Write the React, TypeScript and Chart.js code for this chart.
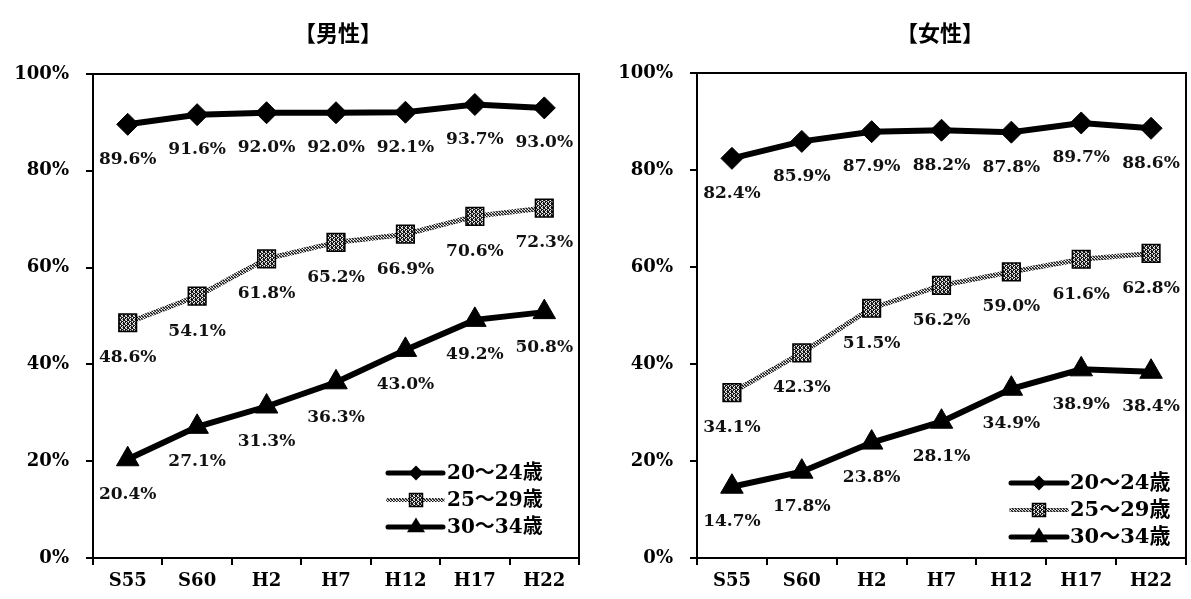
import React, { useEffect, useRef } from 'react';
import { Chart, registerables } from 'chart.js';

Chart.register(...registerables);

const categories = ['S55', 'S60', 'H2', 'H7', 'H12', 'H17', 'H22'];
const seriesNames = ['20～24歳', '25～29歳', '30～34歳'];
const yTickValues = [0, 20, 40, 60, 80, 100];

const male20to24 = [89.6, 91.6, 92.0, 92.0, 92.1, 93.7, 93.0];
const male25to29 = [48.6, 54.1, 61.8, 65.2, 66.9, 70.6, 72.3];
const male30to34 = [20.4, 27.1, 31.3, 36.3, 43.0, 49.2, 50.8];

const female20to24 = [82.4, 85.9, 87.9, 88.2, 87.8, 89.7, 88.6];
const female25to29 = [34.1, 42.3, 51.5, 56.2, 59.0, 61.6, 62.8];
const female30to34 = [14.7, 17.8, 23.8, 28.1, 34.9, 38.9, 38.4];

const SERIF = "'DejaVu Serif', 'Liberation Serif', serif";
const CJK = "'DejaVu Serif', 'Noto Sans CJK JP', sans-serif";

function makePattern(rows: string[]): CanvasPattern | string {
  const c = document.createElement('canvas');
  c.width = rows[0].length;
  c.height = rows.length;
  const ctx = c.getContext('2d');
  if (!ctx) return '#888';
  rows.forEach((row, j) => {
    for (let i = 0; i < row.length; i++) {
      const ch = row[i];
      ctx.fillStyle = ch === 'k' ? '#111' : ch === 'g' ? '#888' : '#f4f4f4';
      ctx.fillRect(i, j, 1, 1);
    }
  });
  return ctx.createPattern(c, 'repeat') || '#888';
}

type Cfg = {
  title: string;
  s1: number[];
  s2: number[];
  s3: number[];
  canvasLeft: number;
  canvasW: number;
  area: { left: number; right: number; top: number; bottom: number };
  legend: { x0: number; x1: number; mx: number; tx: number; rows: number[]; font: number };
  titleX: number;
};

const H = 599;

function drawMarker(ctx: CanvasRenderingContext2D, kind: number, x: number, y: number, fill: any) {
  ctx.save();
  ctx.beginPath();
  if (kind === 0) {
    const r = 7.5;
    ctx.moveTo(x, y - r);
    ctx.lineTo(x + r, y);
    ctx.lineTo(x, y + r);
    ctx.lineTo(x - r, y);
    ctx.closePath();
    ctx.fillStyle = '#000';
    ctx.fill();
  } else if (kind === 1) {
    const s = 6.5;
    ctx.rect(x - s, y - s, 2 * s, 2 * s);
    ctx.fillStyle = fill;
    ctx.fill();
    ctx.lineWidth = 1.5;
    ctx.strokeStyle = '#000';
    ctx.stroke();
  } else {
    const r = 9.5;
    ctx.moveTo(x, y - r);
    ctx.lineTo(x + r * 0.95, y + r * 0.55);
    ctx.lineTo(x - r * 0.95, y + r * 0.55);
    ctx.closePath();
    ctx.fillStyle = '#000';
    ctx.fill();
  }
  ctx.restore();
}

function PanelChart({ cfg }: { cfg: Cfg }) {
  const ref = useRef<HTMLCanvasElement | null>(null);

  useEffect(() => {
    if (!ref.current) return;
    const markerFill = makePattern(['kgwk', 'wkkg', 'gkwk', 'kwgk']);
    const linePattern = makePattern(['kgw', 'gkg', 'wgk']);
    const { area, legend } = cfg;

    const framePlugin = {
      id: 'frame',
      beforeDatasetsDraw(chart: any) {
        const a = chart.chartArea;
        const ctx = chart.ctx;
        ctx.save();
        ctx.strokeStyle = '#000';
        ctx.lineWidth = 2;
        ctx.strokeRect(a.left, a.top, a.right - a.left, a.bottom - a.top);
        ctx.restore();
      },
    };

    const labelPlugin = {
      id: 'valueLabels',
      afterDatasetsDraw(chart: any) {
        const ctx = chart.ctx;
        ctx.save();
        ctx.font = `bold 17px ${SERIF}`;
        ctx.fillStyle = '#111';
        ctx.textAlign = 'center';
        ctx.textBaseline = 'middle';
        chart.data.datasets.forEach((ds: any, di: number) => {
          const meta = chart.getDatasetMeta(di);
          meta.data.forEach((el: any, i: number) => {
            const v = ds.data[i] as number;
            ctx.fillText(v.toFixed(1) + '%', el.x, el.y + 35);
          });
        });
        ctx.restore();
      },
    };

    const extrasPlugin = {
      id: 'extras',
      afterDraw(chart: any) {
        const ctx = chart.ctx;
        ctx.save();
        ctx.font = `bold 22px 'Noto Sans CJK JP', sans-serif`;
        ctx.fillStyle = '#000';
        ctx.textAlign = 'center';
        ctx.textBaseline = 'middle';
        ctx.fillText(cfg.title, cfg.titleX, 33);
        seriesNames.forEach((name, i) => {
          const y = legend.rows[i];
          ctx.beginPath();
          ctx.moveTo(legend.x0, y);
          ctx.lineTo(legend.x1, y);
          ctx.lineWidth = i === 1 ? 4 : 5;
          ctx.strokeStyle = i === 1 ? (linePattern as any) : '#000';
          ctx.lineCap = 'round';
          ctx.stroke();
          drawMarker(ctx, i, legend.mx, y, markerFill);
          ctx.font = `bold ${legend.font}px ${CJK}`;
          ctx.fillStyle = '#000';
          ctx.textAlign = 'left';
          ctx.textBaseline = 'middle';
          ctx.fillText(name, legend.tx, y + 1);
        });
        ctx.restore();
      },
    };

    const chart = new Chart(ref.current, {
      type: 'line',
      data: {
        labels: categories,
        datasets: [
          {
            label: seriesNames[0],
            data: cfg.s1,
            borderColor: '#000',
            backgroundColor: '#000',
            borderWidth: 6,
            pointStyle: 'rectRot',
            pointRadius: 11,
            pointBorderWidth: 1,
            pointBackgroundColor: '#000',
            pointBorderColor: '#000',
            tension: 0,
          },
          {
            label: seriesNames[1],
            data: cfg.s2,
            borderColor: linePattern as any,
            backgroundColor: markerFill as any,
            borderWidth: 5,
            pointStyle: 'rect',
            pointRadius: 12.5,
            pointBorderWidth: 1.5,
            pointBackgroundColor: markerFill as any,
            pointBorderColor: '#000',
            tension: 0,
          },
          {
            label: seriesNames[2],
            data: cfg.s3,
            borderColor: '#000',
            backgroundColor: '#000',
            borderWidth: 6,
            pointStyle: 'triangle',
            pointRadius: 13,
            pointBorderWidth: 1,
            pointBackgroundColor: '#000',
            pointBorderColor: '#000',
            tension: 0,
          },
        ],
      },
      options: {
        responsive: false,
        animation: false,
        devicePixelRatio: 1,
        layout: {
          padding: { left: 0, top: area.top, right: cfg.canvasW - area.right, bottom: 0 },
        },
        plugins: {
          legend: { display: false },
          tooltip: { enabled: false },
          title: { display: false },
        },
        scales: {
          x: {
            type: 'category',
            offset: true,
            afterFit: (s: any) => {
              s.height = H - area.bottom;
            },
            grid: {
              offset: true,
              drawOnChartArea: false,
              drawTicks: true,
              tickLength: 7,
              color: '#000',
              lineWidth: 2,
            },
            border: { display: true, color: '#000', width: 2 },
            ticks: {
              color: '#000',
              font: { family: SERIF, size: 18, weight: 'bold' },
              padding: 6,
              maxRotation: 0,
              autoSkip: false,
            },
          },
          y: {
            min: 0,
            max: 100,
            afterFit: (s: any) => {
              s.width = area.left;
            },
            afterBuildTicks: (s: any) => {
              s.ticks = yTickValues.map((v) => ({ value: v }));
            },
            grid: {
              drawOnChartArea: false,
              drawTicks: true,
              tickLength: 7,
              color: '#000',
              lineWidth: 2,
            },
            border: { display: true, color: '#000', width: 2 },
            ticks: {
              color: '#000',
              font: { family: SERIF, size: 18, weight: 'bold' },
              padding: 17,
              callback: (v: any) => `${v}%`,
            },
          },
        },
      },
      plugins: [framePlugin, labelPlugin, extrasPlugin],
    } as any);

    return () => chart.destroy();
  }, [cfg]);

  return (
    <canvas
      ref={ref}
      width={cfg.canvasW}
      height={H}
      style={{ position: 'absolute', left: cfg.canvasLeft, top: 0, width: cfg.canvasW, height: H }}
    />
  );
}

const maleCfg: Cfg = {
  title: '【男性】',
  s1: male20to24,
  s2: male25to29,
  s3: male30to34,
  canvasLeft: 0,
  canvasW: 600,
  area: { left: 93, right: 579, top: 74, bottom: 558 },
  legend: { x0: 388, x1: 443, mx: 416, tx: 447, rows: [473, 500, 527], font: 20 },
  titleX: 338,
};

const femaleCfg: Cfg = {
  title: '【女性】',
  s1: female20to24,
  s2: female25to29,
  s3: female30to34,
  canvasLeft: 600,
  canvasW: 600,
  area: { left: 97, right: 594, top: 73, bottom: 558 },
  legend: { x0: 411, x1: 467, mx: 439, tx: 470, rows: [483, 510, 537], font: 21 },
  titleX: 340,
};

export default function App() {
  return (
    <div
      style={{
        position: 'fixed',
        left: 0,
        top: 0,
        width: 1191,
        height: H,
        overflow: 'hidden',
        background: '#fff',
      }}
    >
      <PanelChart cfg={maleCfg} />
      <PanelChart cfg={femaleCfg} />
    </div>
  );
}
